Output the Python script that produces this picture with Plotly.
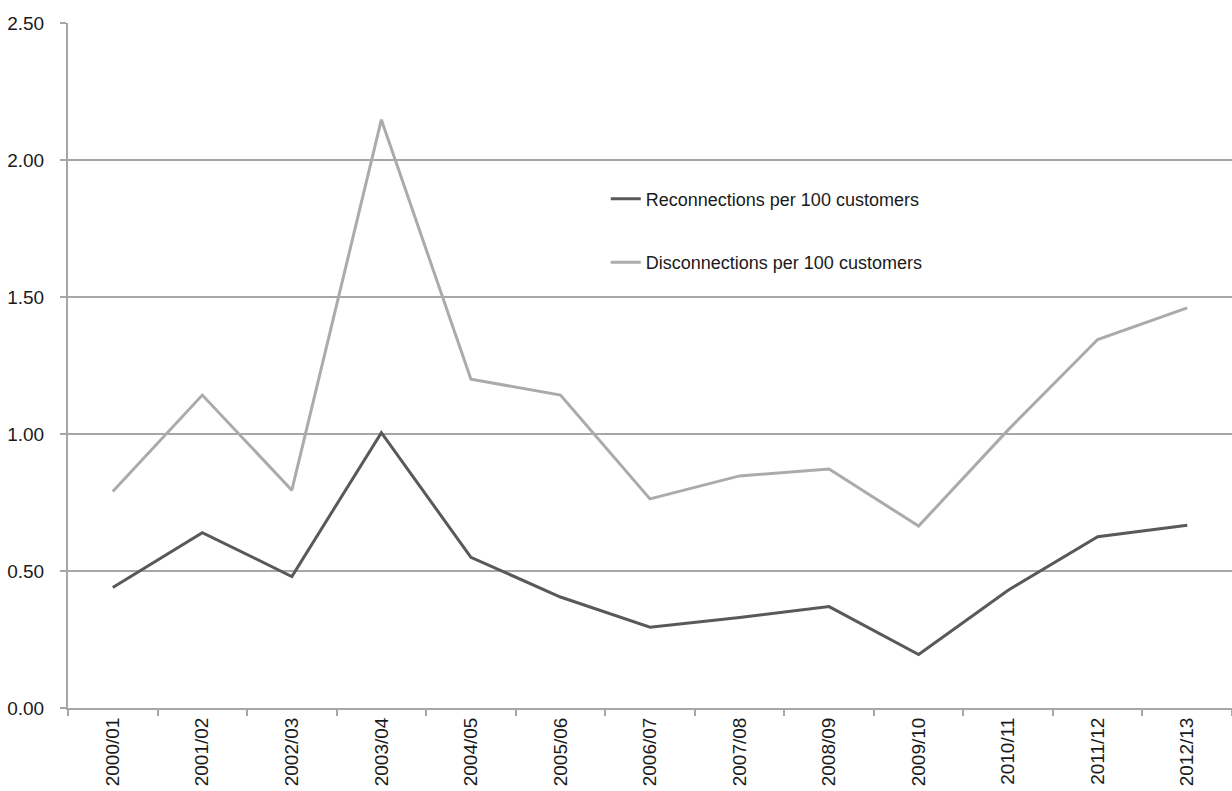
import plotly.graph_objects as go

years = ["2000/01", "2001/02", "2002/03", "2003/04", "2004/05", "2005/06", "2006/07",
         "2007/08", "2008/09", "2009/10", "2010/11", "2011/12", "2012/13"]
reconnections = [0.44, 0.64, 0.48, 1.005, 0.55, 0.405, 0.295, 0.33, 0.37, 0.195, 0.43, 0.625, 0.667]
disconnections = [0.79, 1.142, 0.795, 2.147, 1.20, 1.142, 0.763, 0.847, 0.872, 0.664, 1.015, 1.345, 1.46]

FONT = "Liberation Sans Narrow, Arial Narrow, Liberation Sans, Arial, sans-serif"

fig = go.Figure()
fig.add_trace(go.Scatter(
    x=years, y=reconnections, mode="lines", name="Reconnections per 100 customers",
    line=dict(color="#595959", width=3), legendgroup="r",
))
fig.add_trace(go.Scatter(
    x=years, y=disconnections, mode="lines", name="Disconnections per 100 customers",
    line=dict(color="#ababab", width=3), legendgroup="d",
))

fig.update_layout(
    width=1232, height=791,
    margin=dict(l=68, r=0, t=23, b=83),
    paper_bgcolor="white", plot_bgcolor="white",
    font=dict(family=FONT, size=18, color="#1a1a1a"),
    showlegend=True,
    legend=dict(
        x=0.462, y=0.77, xanchor="left", yanchor="top",
        bgcolor="rgba(0,0,0,0)", font=dict(size=18, color="#1a1a1a"),
        traceorder="grouped", tracegroupgap=37,
    ),
    xaxis=dict(
        type="category", tickangle=-90, ticks="outside", tickson="boundaries",
        ticklen=6, tickcolor="#a6a6a6", tickwidth=2,
        showline=True, linecolor="#a6a6a6", linewidth=2,
        showgrid=False, zeroline=False,
        tickfont=dict(size=19), range=[-0.5, 12.5],
    ),
    yaxis=dict(
        range=[0, 2.5], dtick=0.5, tickformat=".2f",
        ticks="outside", ticklen=6, tickcolor="#a6a6a6", tickwidth=2,
        showline=True, linecolor="#a6a6a6", linewidth=2,
        showgrid=True, gridcolor="#a6a6a6", gridwidth=1.5,
        zeroline=False, tickfont=dict(size=19), ticklabelstandoff=12,
    ),
)

fig.write_html("out.html")
